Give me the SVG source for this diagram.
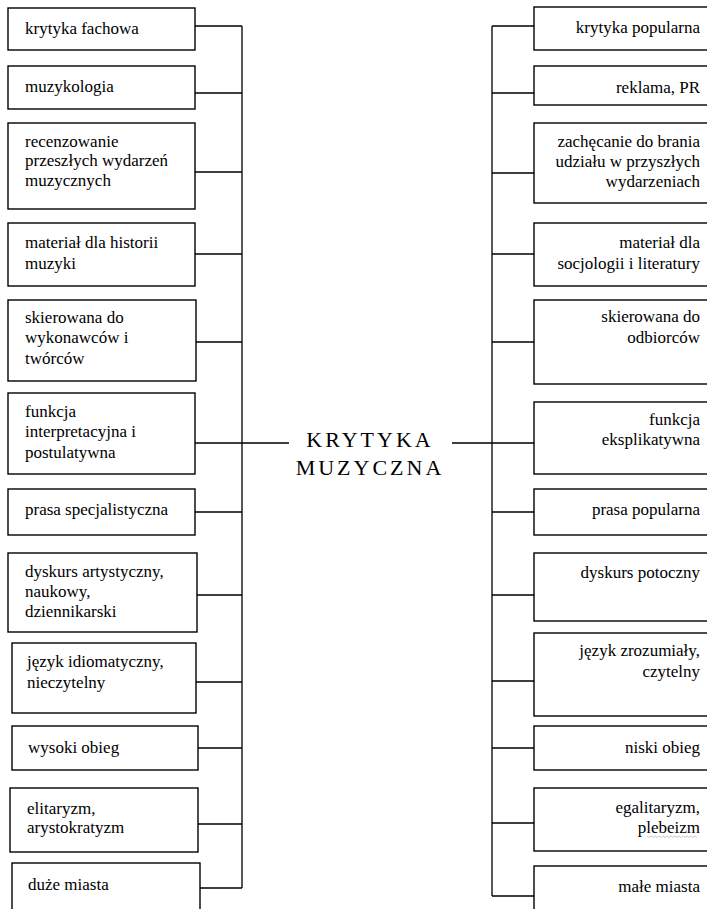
<svg xmlns="http://www.w3.org/2000/svg" width="707" height="909" viewBox="0 0 707 909">
<style>
.b{fill:#fff;stroke:#000;stroke-width:1.4}
.c{fill:none;stroke:#000;stroke-width:1.3}
.t{font-size:17px;fill:#000}
.r{text-anchor:end}
.m{font-size:22px;letter-spacing:3px;fill:#000;text-anchor:middle}
</style>
<rect width="707" height="909" fill="#fff"/>
<g id="connectors">
<path class="c" d="M242,26V888 M195,26H242 M195,93H242 M195,172H242 M195,254H242 M196,342H242 M195,443H289 M195,512H242 M197,595H242 M196,682H242 M198,748H242 M198,824H242 M200,888H242"/>
<path class="c" d="M492,26V896 M492,26H534 M492,93H534 M492,173H534 M492,254H534 M492,342H534 M452,443H534 M492,512H534 M492,595H534 M492,681H534 M492,748H534 M492,823H534 M492,896H534"/>
</g>
<g font-family="Liberation Serif, Times New Roman, serif">
<g id="center"><text class="m" x="370" y="447">KRYTYKA</text><text class="m" x="370" y="475">MUZYCZNA</text></g>
<g id="l1"><rect class="b" x="8" y="8" width="187" height="42"/><text class="t" x="25" y="34">krytyka fachowa</text></g>
<g id="l2"><rect class="b" x="8" y="66" width="187" height="43"/><text class="t" x="25" y="92">muzykologia</text></g>
<g id="l3"><rect class="b" x="8" y="123" width="187" height="86"/><text class="t" x="25" y="147">recenzowanie</text><text class="t" x="25" y="166">przeszłych wydarzeń</text><text class="t" x="25" y="186">muzycznych</text></g>
<g id="l4"><rect class="b" x="8" y="223" width="187" height="63"/><text class="t" x="25" y="248">materiał dla historii</text><text class="t" x="25" y="269">muzyki</text></g>
<g id="l5"><rect class="b" x="8" y="300" width="188" height="81"/><text class="t" x="25" y="323">skierowana do</text><text class="t" x="25" y="343">wykonawców i</text><text class="t" x="25" y="364">twórców</text></g>
<g id="l6"><rect class="b" x="8" y="393" width="187" height="81"/><text class="t" x="25" y="417">funkcja</text><text class="t" x="25" y="437">interpretacyjna i</text><text class="t" x="25" y="458">postulatywna</text></g>
<g id="l7"><rect class="b" x="8" y="489" width="187" height="46"/><text class="t" x="25" y="515">prasa specjalistyczna</text></g>
<g id="l8"><rect class="b" x="8" y="553" width="189" height="79"/><text class="t" x="25" y="577">dyskurs artystyczny,</text><text class="t" x="25" y="597">naukowy,</text><text class="t" x="25" y="617">dziennikarski</text></g>
<g id="l9"><rect class="b" x="12" y="643" width="184" height="70"/><text class="t" x="27" y="667">język idiomatyczny,</text><text class="t" x="27" y="688">nieczytelny</text></g>
<g id="l10"><rect class="b" x="12" y="726" width="186" height="44"/><text class="t" x="28" y="753">wysoki obieg</text></g>
<g id="l11"><rect class="b" x="10" y="788" width="188" height="64"/><text class="t" x="27" y="814">elitaryzm,</text><text class="t" x="27" y="833">arystokratyzm</text></g>
<g id="l12"><rect class="b" x="12" y="863" width="188" height="60"/><text class="t" x="28" y="890">duże miasta</text></g>
<g id="r1"><rect class="b" x="534" y="7" width="180" height="43"/><text class="t r" x="700" y="33">krytyka popularna</text></g>
<g id="r2"><rect class="b" x="534" y="66" width="180" height="39"/><text class="t r" x="700" y="93">reklama, PR</text></g>
<g id="r3"><rect class="b" x="534" y="123" width="180" height="80"/><text class="t r" x="700" y="147">zachęcanie do brania</text><text class="t r" x="700" y="167">udziału w przyszłych</text><text class="t r" x="700" y="187">wydarzeniach</text></g>
<g id="r4"><rect class="b" x="534" y="223" width="180" height="63"/><text class="t r" x="700" y="248">materiał dla</text><text class="t r" x="700" y="269">socjologii i literatury</text></g>
<g id="r5"><rect class="b" x="534" y="300" width="180" height="84"/><text class="t r" x="700" y="322">skierowana do</text><text class="t r" x="700" y="343">odbiorców</text></g>
<g id="r6"><rect class="b" x="534" y="402" width="180" height="72"/><text class="t r" x="700" y="425">funkcja</text><text class="t r" x="700" y="445">eksplikatywna</text></g>
<g id="r7"><rect class="b" x="534" y="489" width="180" height="46"/><text class="t r" x="700" y="515">prasa popularna</text></g>
<g id="r8"><rect class="b" x="534" y="553" width="180" height="68"/><text class="t r" x="700" y="578">dyskurs potoczny</text></g>
<g id="r9"><rect class="b" x="534" y="633" width="180" height="83"/><text class="t r" x="700" y="656">język zrozumiały,</text><text class="t r" x="700" y="677">czytelny</text></g>
<g id="r10"><rect class="b" x="534" y="726" width="180" height="44"/><text class="t r" x="700" y="753">niski obieg</text></g>
<g id="r11"><rect class="b" x="534" y="788" width="180" height="63"/><text class="t r" x="700" y="813">egalitaryzm,</text><text class="t r" x="700" y="833">plebeizm</text><path d="M647,836 l2,1.5 2,-1.5 2,1.5 2,-1.5 2,1.5 2,-1.5 2,1.5 2,-1.5 2,1.5 2,-1.5 2,1.5 2,-1.5 2,1.5 2,-1.5 2,1.5 2,-1.5 2,1.5 2,-1.5 2,1.5 2,-1.5 2,1.5 2,-1.5 2,1.5 2,-1.5 2,1.5" fill="none" stroke="#bbb" stroke-width="0.8"/></g>
<g id="r12"><rect class="b" x="534" y="866" width="180" height="60"/><text class="t r" x="700" y="892">małe miasta</text></g>
</g>
</svg>
